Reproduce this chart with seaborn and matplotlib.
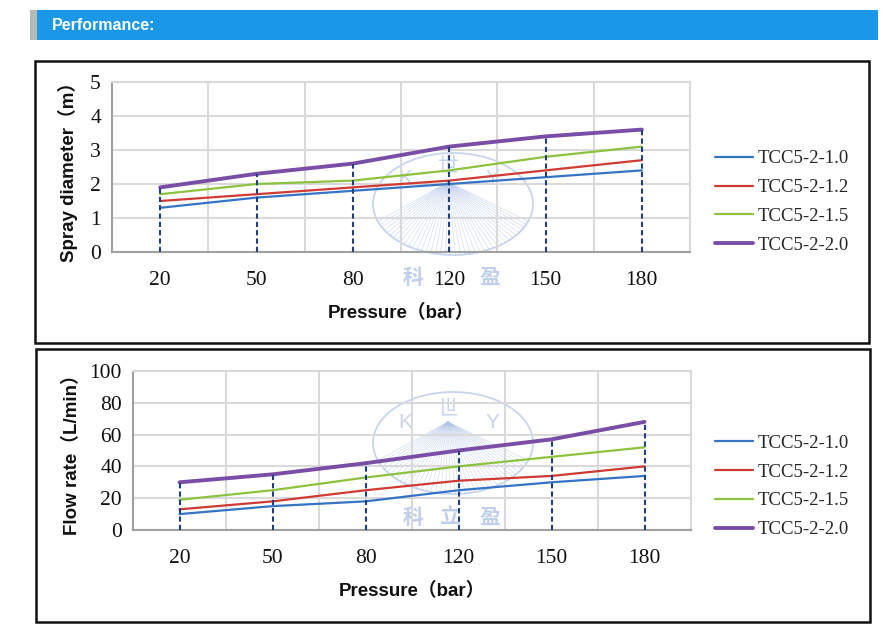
import numpy as np
import pandas as pd
import matplotlib
matplotlib.use("Agg")
import matplotlib.pyplot as plt
import seaborn as sns
from matplotlib.patches import Rectangle, Ellipse
from matplotlib.lines import Line2D
from matplotlib.ticker import FixedLocator

# ---------------- data ----------------
pressure = ["20", "50", "80", "120", "150", "180"]
models = ["TCC5-2-1.0", "TCC5-2-1.2", "TCC5-2-1.5", "TCC5-2-2.0"]

spray_10 = [1.3, 1.6, 1.8, 2.0, 2.2, 2.4]
spray_12 = [1.5, 1.7, 1.9, 2.1, 2.4, 2.7]
spray_15 = [1.7, 2.0, 2.1, 2.4, 2.8, 3.1]
spray_20 = [1.9, 2.3, 2.6, 3.1, 3.4, 3.6]

flow_10 = [10, 15, 18, 25, 30, 34]
flow_12 = [13, 18, 25, 31, 34, 40]
flow_15 = [19, 25, 33, 40, 46, 52]
flow_20 = [30, 35, 42, 50, 57, 68]

spray_yticks = [0, 1, 2, 3, 4, 5]
flow_yticks = [0, 20, 40, 60, 80, 100]

header_text = "Performance:"
spray_ylabel = "Spray diameter（m）"
flow_ylabel = "Flow rate（L/min）"
xlabel_text = "Pressure（bar）"

colors = ["#3574C4", "#CF3A33", "#8DC23F", "#7A4EA6"]
widths = [1.6, 1.6, 1.6, 2.8]


def long_df(series):
    rows = []
    for m, vals in zip(models, series):
        for p, v in zip(pressure, vals):
            rows.append({"Pressure": p, "model": m, "value": v})
    return pd.DataFrame(rows)


spray_df = long_df([spray_10, spray_12, spray_15, spray_20])
flow_df = long_df([flow_10, flow_12, flow_15, flow_20])

# ---------------- figure ----------------
sns.set_theme(style="white")
W, H = 893, 637
fig = plt.figure(figsize=(W / 100, H / 100), dpi=100)
fig.patch.set_facecolor("white")

bg = fig.add_axes([0, 0, 1, 1], zorder=0)
bg.set_xlim(0, W)
bg.set_ylim(H, 0)
bg.axis("off")

# header bar
bg.add_patch(Rectangle((30, 10), 7, 30, facecolor="#B4BAB8", edgecolor="none"))
bg.add_patch(Rectangle((37, 10), 841, 30, facecolor="#1A97E6", edgecolor="none"))
bg.text(52, 25.5, header_text, color="white", fontsize=11.5, fontweight="bold",
        family="Liberation Sans", ha="left", va="center")

# panel borders
bg.add_patch(Rectangle((35, 61), 834, 282, facecolor="none", edgecolor="#111111", lw=1.8))
bg.add_patch(Rectangle((36, 349), 834, 273, facecolor="none", edgecolor="#111111", lw=1.8))

# watermark
wm = "#AFC3E6"
for cy, apex_y, ty, by, chars in [(204, 182, 175, 277, [("科", 413), ("盈", 490)]),
                                  (443, 422, 418, 517, [("科", 413), ("立", 450), ("盈", 490)])]:
    bg.add_patch(Ellipse((453, cy), 160, 102, facecolor="none", edgecolor=wm, lw=1.3, alpha=0.7))
    for ang in np.linspace(200, 340, 40):
        t = np.deg2rad(ang)
        ex = 453 + 80 * np.cos(t)
        ey = cy - 51 * np.sin(t)
        bg.plot([448, ex], [apex_y, ey], color=wm, lw=0.5, alpha=0.55)
    bg.text(405, ty + 4, "K", color=wm, fontsize=15, family="Liberation Sans",
            ha="center", va="center", alpha=0.7)
    bg.text(448, ty - 10, "世", color=wm, fontsize=15, family="Noto Sans CJK SC",
            ha="center", va="center", alpha=0.7)
    bg.text(492, ty + 4, "Y", color=wm, fontsize=15, family="Liberation Sans",
            ha="center", va="center", alpha=0.7)
    for ch, x in chars:
        bg.text(x, by, ch, color=wm, fontsize=15, fontweight="bold",
                family="Noto Sans CJK SC", ha="center", va="center", alpha=0.8)

label_font = ["Liberation Sans", "Noto Sans CJK SC"]


def draw_panel(rect_px, df, top_vals, yticks, ylabel, ylab_x, xlab_y, legend_cy):
    l, t, r, b = rect_px
    ax = fig.add_axes([l / W, 1 - b / H, (r - l) / W, (b - t) / H], zorder=2)
    ax.set_facecolor("none")
    sns.lineplot(data=df, x="Pressure", y="value", hue="model", size="model",
                 palette=dict(zip(models, colors)), sizes=dict(zip(models, widths)),
                 sort=False, ax=ax, legend=False, zorder=3)
    ax.vlines(pressure, 0, top_vals, colors="#1F3F85", linestyles=(0, (2.5, 1.5)),
              lw=1.5, zorder=4)
    ax.set_xlim(-0.5, 5.5)
    ax.set_ylim(yticks[0], yticks[-1])
    ax.set_yticks(yticks)
    ax.xaxis.set_minor_locator(FixedLocator(np.arange(-0.5, 6.0, 1.0)))
    ax.grid(False)
    ax.grid(True, axis="y", which="major", color="#D9D9D9", lw=1.5, zorder=0)
    ax.grid(True, axis="x", which="minor", color="#D9D9D9", lw=1.5, zorder=0)
    ax.tick_params(axis="both", which="both", length=0)
    ax.tick_params(axis="x", pad=13.5)
    ax.tick_params(axis="y", pad=8)
    for lab in ax.get_xticklabels() + ax.get_yticklabels():
        lab.set_family("Liberation Serif")
        lab.set_fontsize(15.5)
        lab.set_color("#111111")
    for s in ["top", "right"]:
        ax.spines[s].set_color("#D9D9D9")
        ax.spines[s].set_linewidth(1.5)
    for s in ["left", "bottom"]:
        ax.spines[s].set_color("#A0A0A0")
        ax.spines[s].set_linewidth(1.5)
    ax.set_ylabel(ylabel, family=label_font, fontsize=13.5, fontweight="bold", color="#111111")
    ax.yaxis.set_label_coords(ylab_x, 0.5)
    ax.set_xlabel(xlabel_text, family=label_font, fontsize=13.5, fontweight="bold", color="#111111")
    ax.xaxis.set_label_coords(0.5, xlab_y)
    handles = [Line2D([], [], color=c, lw=w) for c, w in zip(colors, widths)]
    ax.legend(handles, models, loc="center left", frameon=False,
              bbox_to_anchor=(715 / W, 1 - legend_cy / H), bbox_transform=fig.transFigure,
              prop={"family": "Liberation Serif", "size": 13.5}, handlelength=2.0,
              handletextpad=0.3, labelspacing=0.62, borderpad=0, borderaxespad=0)
    return ax


draw_panel((112, 82, 690, 252), spray_df, spray_20, spray_yticks, spray_ylabel,
           -0.058, -0.305, 202)
draw_panel((133, 371, 691, 530), flow_df, flow_20, flow_yticks, flow_ylabel,
           -0.093, -0.33, 486.5)

fig.savefig("out.png", dpi=100)
